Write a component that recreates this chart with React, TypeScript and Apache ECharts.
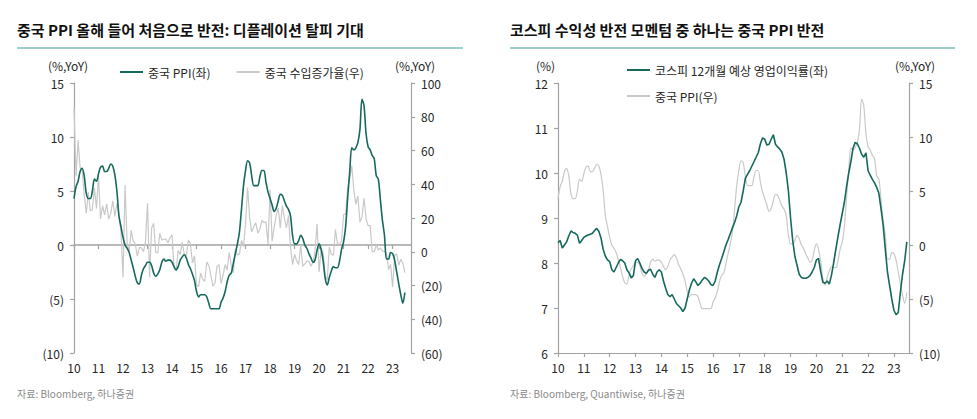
import { useEffect, useRef } from "react";
import * as echarts from "echarts";

// ---------- data ----------
const chinaPPI: number[] = [
  // 2010
  4.3, 5.4, 5.9, 6.8, 7.1, 6.4, 4.8, 4.3, 4.3, 5.0, 6.1, 5.9,
  // 2011
  6.6, 7.2, 7.3, 6.8, 6.8, 7.1, 7.5, 7.3, 6.5, 5.0, 2.7, 1.7,
  // 2012
  0.7, 0.0, -0.3, -0.7, -1.4, -2.1, -2.9, -3.5, -3.6, -2.8, -2.2, -1.9,
  // 2013
  -1.6, -1.6, -1.9, -2.6, -2.9, -2.7, -2.3, -1.6, -1.3, -1.5, -1.4, -1.4,
  // 2014
  -1.6, -2.0, -2.3, -2.0, -1.4, -1.1, -0.9, -1.2, -1.8, -2.2, -2.7, -3.3,
  // 2015
  -4.3, -4.8, -4.6, -4.6, -4.6, -4.8, -5.4, -5.9, -5.9, -5.9, -5.9, -5.9,
  // 2016
  -5.3, -4.9, -4.3, -3.4, -2.8, -2.6, -1.7, -0.8, 0.1, 1.2, 3.3, 5.5,
  // 2017
  6.9, 7.8, 7.6, 6.4, 5.5, 5.5, 5.5, 6.3, 6.9, 6.9, 5.8, 4.9,
  // 2018
  4.3, 3.7, 3.1, 3.4, 4.1, 4.7, 4.6, 4.1, 3.6, 3.3, 2.7, 0.9,
  // 2019
  0.1, 0.1, 0.4, 0.9, 0.6, 0.0, -0.3, -0.8, -1.2, -1.6, -1.4, -0.5,
  // 2020
  0.1, -0.4, -1.5, -3.1, -3.7, -3.0, -2.4, -2.0, -2.1, -2.1, -1.5, -0.4,
  // 2021
  0.3, 1.7, 4.4, 6.8, 9.0, 8.8, 9.0, 9.5, 10.7, 13.5, 12.9, 10.3,
  // 2022
  9.1, 8.8, 8.3, 8.0, 6.4, 6.1, 4.2, 2.3, 0.9, -1.3, -1.3, -0.7,
  // 2023
  -0.8, -1.4, -2.5, -3.6, -4.6, -5.4, -4.4,
];

const chinaImports: number[] = [
  // 2010
  85.5, 44.7, 66.0, 49.7, 48.3, 34.1, 22.7, 35.2, 24.1, 25.3, 37.7, 25.6,
  // 2011
  45.0, 19.4, 27.3, 21.8, 28.4, 19.3, 22.9, 30.2, 20.9, 28.7, 22.1, 11.8,
  // 2012
  -15.3, 39.6, 5.3, 0.3, 12.7, 6.3, 4.7, -2.6, 2.4, 2.4, 0.0, 6.0,
  // 2013
  28.8, -15.2, 14.1, 16.8, -0.3, -0.7, 10.9, 7.0, 7.4, 7.6, 5.3, 8.3,
  // 2014
  10.0, -10.1, -11.3, 0.8, -1.6, 5.5, -1.6, -2.4, 7.0, 4.6, -6.7, -2.4,
  // 2015
  -19.9, -20.5, -12.7, -16.2, -17.6, -6.1, -8.1, -13.8, -20.4, -18.8, -8.7, -7.6,
  // 2016
  -18.8, -13.8, -7.6, -10.9, -0.4, -8.4, -12.5, 1.5, -1.9, -1.4, 6.7, 3.1,
  // 2017
  16.7, 38.1, 20.3, 11.9, 14.8, 17.2, 11.0, 13.3, 18.7, 17.2, 17.7, 4.5,
  // 2018
  36.9, 6.3, 14.4, 21.5, 26.0, 14.1, 27.3, 20.0, 14.3, 21.4, 3.0, -7.6,
  // 2019
  -1.5, -5.2, -7.6, 4.0, -8.5, -7.3, -5.6, -5.6, -8.5, -6.4, 0.3, 16.5,
  // 2020
  -12.0, 2.0, -0.9, -14.2, -16.7, 2.7, -1.4, -2.1, 13.2, 4.7, 4.5, 6.5,
  // 2021
  22.2, 22.2, 38.1, 43.1, 51.1, 36.7, 28.1, 33.1, 17.6, 20.6, 31.7, 19.5,
  // 2022
  15.5, 15.5, -0.1, 0.0, 4.1, 1.0, 2.3, 0.3, 0.3, -0.7, -10.6, -7.5,
  // 2023
  -21.0, -2.0, -1.4, -7.9, -4.5, -6.8, -12.4,
];

const kospiMargin: number[] = [
  // 2010
  8.45, 8.5, 8.33, 8.4, 8.47, 8.6, 8.71, 8.68, 8.66, 8.62, 8.44, 8.5,
  // 2011
  8.57, 8.6, 8.62, 8.64, 8.66, 8.72, 8.77, 8.7, 8.55, 8.3, 8.15, 8.07,
  // 2012
  8.03, 7.85, 7.8, 7.9, 8.0, 8.08, 8.05, 8.0, 7.85, 7.78, 7.67, 7.72,
  // 2013
  8.05, 8.1, 8.0, 7.88, 7.8, 7.77, 7.84, 7.86, 7.75, 7.68, 7.8, 7.85,
  // 2014
  7.8, 7.6, 7.44, 7.3, 7.25, 7.3, 7.2, 7.1, 7.05, 7.0, 6.92, 7.0,
  // 2015
  7.2, 7.4, 7.55, 7.65, 7.58, 7.5, 7.55, 7.62, 7.68, 7.65, 7.6, 7.52,
  // 2016
  7.5, 7.6, 7.8, 7.96, 8.1, 8.25, 8.4, 8.52, 8.65, 8.78, 8.9, 9.05,
  // 2017
  9.25, 9.35, 9.6, 9.88, 9.97, 10.05, 10.15, 10.25, 10.35, 10.45, 10.65, 10.78,
  // 2018
  10.75, 10.62, 10.64, 10.75, 10.85, 10.64, 10.58, 10.53, 10.46, 10.3, 10.0, 9.6,
  // 2019
  9.0, 8.5, 8.15, 7.95, 7.75, 7.68, 7.66, 7.66, 7.68, 7.72, 7.8, 7.9,
  // 2020
  8.07, 8.1, 7.81, 7.57, 7.55, 7.6, 7.53, 7.73, 8.0, 8.3, 8.58, 8.85,
  // 2021
  9.1, 9.35, 9.7, 10.0, 10.25, 10.55, 10.68, 10.65, 10.55, 10.42, 10.35, 10.45,
  // 2022
  10.05, 9.95, 9.86, 9.78, 9.68, 9.55, 9.21, 8.84, 8.3, 7.8, 7.5, 7.2,
  // 2023
  6.95, 6.85, 6.9, 7.35, 7.75, 8.05, 8.47,
];

const leftTitle = "중국 PPI 올해 들어 처음으로 반전: 디플레이션 탈피 기대";
const rightTitle = "코스피 수익성 반전 모멘텀 중 하나는 중국 PPI 반전";
const leftSource = "자료: Bloomberg, 하나증권";
const rightSource = "자료: Bloomberg, Quantiwise, 하나증권";
const leftNames = ["중국 PPI(좌)", "중국 수입증가율(우)"];
const rightNames = ["코스피 12개월 예상 영업이익률(좌)", "중국 PPI(우)"];

function monthCats(startYear: number, count: number): string[] {
  const out: string[] = [];
  for (let i = 0; i < count; i++) {
    const y = startYear + Math.floor(i / 12);
    const m = (i % 12) + 1;
    out.push(`${y}-${m < 10 ? "0" + m : m}`);
  }
  return out;
}
const leftCats = monthCats(2010, 166);
const rightCats = monthCats(2010, 164);

const TEAL = "#15695d";
const GRAY_LINE = "#c9c9c9";
const AXIS = "#a3a3a3";
const LABEL = "#262626";
const FONT = "'Noto Sans CJK KR', 'Noto Sans', sans-serif";

const isJan = (_i: number, v: string) => typeof v === "string" && v.endsWith("-01");
const yearFmt = (v: string) => (v.endsWith("-01") ? v.slice(2, 4) : "");
const negFmt = (v: number) => (v < 0 ? `(${Math.abs(v)})` : `${v}`);

export default function App() {
  const ref = useRef<HTMLDivElement>(null);
  useEffect(() => {
    if (!ref.current) return;
    const chart = echarts.init(ref.current, undefined, { renderer: "svg" });

    const yBase = (gridIndex: number, position: "left" | "right", min: number, max: number, interval: number) => ({
      type: "value",
      gridIndex,
      position,
      min,
      max,
      interval,
      splitLine: { show: false },
      axisLine: { show: true, lineStyle: { color: AXIS, width: 1.2 } },
      axisTick: { show: true, length: 4, lineStyle: { color: AXIS, width: 1.2 } },
      axisLabel: { formatter: negFmt, color: LABEL, fontSize: 12, margin: 10, fontFamily: FONT },
    });

    const unitStyle = { fill: LABEL, fontSize: 12, fontFamily: FONT };

    const option: any = {
      animation: false,
      backgroundColor: "#ffffff",
      textStyle: { fontFamily: FONT },
      grid: [
        { left: 74, top: 83, width: 337, height: 270 },
        { left: 558, top: 83, width: 351, height: 270 },
      ],
      xAxis: [
        {
          type: "category",
          gridIndex: 0,
          data: leftCats,
          boundaryGap: false,
          position: "bottom",
          axisLine: { show: false, onZero: false },
          axisTick: { show: false },
          axisLabel: { interval: isJan, formatter: yearFmt, color: LABEL, fontSize: 12, margin: 8, fontFamily: FONT },
          splitLine: { show: false },
        },
        {
          type: "category",
          gridIndex: 0,
          data: leftCats,
          boundaryGap: false,
          position: "bottom",
          axisLine: { show: true, onZero: true, onZeroAxisIndex: 0, lineStyle: { color: AXIS, width: 1.5 } },
          axisTick: { show: true, interval: isJan, length: 4, lineStyle: { color: AXIS, width: 1.2 } },
          axisLabel: { show: false },
          splitLine: { show: false },
        },
        {
          type: "category",
          gridIndex: 1,
          data: rightCats,
          boundaryGap: false,
          position: "bottom",
          axisLine: { show: true, onZero: false, lineStyle: { color: AXIS, width: 1.2 } },
          axisTick: { show: true, interval: isJan, length: 4, lineStyle: { color: AXIS, width: 1.2 } },
          axisLabel: { interval: isJan, formatter: yearFmt, color: LABEL, fontSize: 12, margin: 8, fontFamily: FONT },
          splitLine: { show: false },
        },
      ],
      yAxis: [
        yBase(0, "left", -10, 15, 5),
        yBase(0, "right", -60, 100, 20),
        yBase(1, "left", 6, 12, 1),
        yBase(1, "right", -10, 15, 5),
      ],
      legend: [
        {
          left: 120,
          top: 66,
          padding: 0,
          orient: "horizontal",
          itemWidth: 23,
          itemHeight: 2,
          itemGap: 26,
          icon: "rect",
          data: leftNames,
          textStyle: { color: LABEL, fontSize: 12, fontFamily: FONT },
        },
        {
          left: 627,
          top: 64,
          padding: 0,
          orient: "vertical",
          itemWidth: 23,
          itemHeight: 2,
          itemGap: 14,
          icon: "rect",
          data: rightNames,
          textStyle: { color: LABEL, fontSize: 12, fontFamily: FONT },
        },
      ],
      series: [
        {
          name: leftNames[1],
          type: "line",
          xAxisIndex: 0,
          yAxisIndex: 1,
          data: chinaImports,
          symbol: "none",
          lineStyle: { color: GRAY_LINE, width: 1.2 },
          itemStyle: { color: GRAY_LINE },
          z: 2,
        },
        {
          name: leftNames[0],
          type: "line",
          xAxisIndex: 0,
          yAxisIndex: 0,
          data: chinaPPI,
          symbol: "none",
          smooth: 0.3,
          lineStyle: { color: TEAL, width: 1.6 },
          itemStyle: { color: TEAL },
          z: 3,
        },
        {
          name: rightNames[1],
          type: "line",
          xAxisIndex: 2,
          yAxisIndex: 3,
          data: chinaPPI,
          symbol: "none",
          smooth: 0.3,
          lineStyle: { color: GRAY_LINE, width: 1.2 },
          itemStyle: { color: GRAY_LINE },
          z: 2,
        },
        {
          name: rightNames[0],
          type: "line",
          xAxisIndex: 2,
          yAxisIndex: 2,
          data: kospiMargin,
          symbol: "none",
          lineStyle: { color: TEAL, width: 1.6 },
          itemStyle: { color: TEAL },
          z: 3,
        },
      ],
      graphic: [
        {
          type: "text",
          left: 17,
          top: 22,
          style: { text: leftTitle, fill: "#111", fontSize: 15, fontWeight: "bold", fontFamily: FONT },
        },
        {
          type: "text",
          left: 510,
          top: 22,
          style: { text: rightTitle, fill: "#111", fontSize: 15, fontWeight: "bold", fontFamily: FONT },
        },
        {
          type: "line",
          shape: { x1: 17, y1: 48, x2: 463, y2: 48 },
          style: { stroke: "#3a9d96", lineWidth: 1.2 },
        },
        {
          type: "line",
          shape: { x1: 510, y1: 48, x2: 955, y2: 48 },
          style: { stroke: "#3a9d96", lineWidth: 1.2 },
        },
        { type: "text", left: 48, top: 59, style: { text: "(%,YoY)", ...unitStyle } },
        { type: "text", left: 395, top: 59, style: { text: "(%,YoY)", ...unitStyle } },
        { type: "text", left: 536, top: 59, style: { text: "(%)", ...unitStyle } },
        { type: "text", left: 895, top: 59, style: { text: "(%,YoY)", ...unitStyle } },
        {
          type: "text",
          left: 17,
          top: 388,
          style: { text: leftSource, fill: "#8a8a8a", fontSize: 10, fontFamily: FONT },
        },
        {
          type: "text",
          left: 510,
          top: 388,
          style: { text: rightSource, fill: "#8a8a8a", fontSize: 10, fontFamily: FONT },
        },
      ],
    };

    chart.setOption(option);
    return () => chart.dispose();
  }, []);

  return (
    <div
      ref={ref}
      style={{ position: "absolute", left: 0, top: 0, width: 977, height: 419, background: "#fff" }}
    />
  );
}
